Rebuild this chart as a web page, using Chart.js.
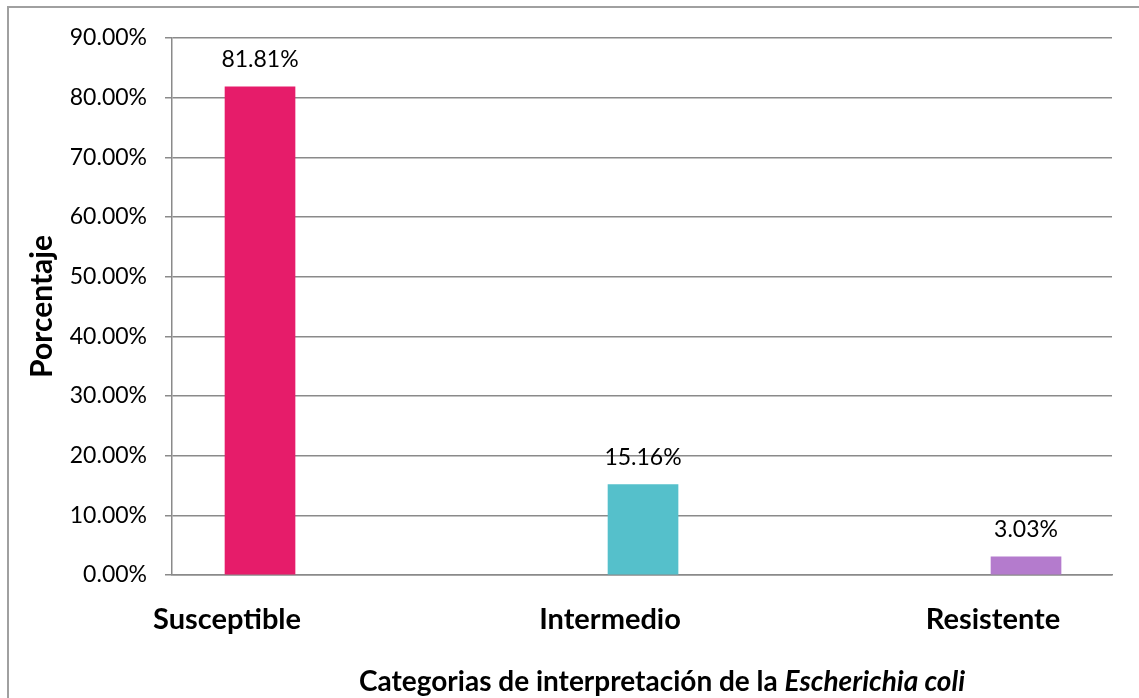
<!DOCTYPE html>
<html>
<head>
<meta charset="utf-8">
<script src="https://cdn.jsdelivr.net/npm/chart.js@4.4.1/dist/chart.umd.min.js"></script>
<style>
html,body{margin:0;padding:0;background:#fff;}
#wrap{position:relative;width:1139px;height:698px;overflow:hidden;}
#frame{position:absolute;left:7px;top:6px;width:1200px;height:720px;border:2px solid #a0a0a0;box-sizing:border-box;}
canvas{position:absolute;left:0;top:0;}
</style>
</head>
<body>
<div id="wrap">
<div id="frame"></div>
<canvas id="c" width="1139" height="698"></canvas>
</div>
<script>
const categories = ["Susceptible", "Intermedio", "Resistente"];
const percentages = [81.81, 15.16, 3.03];
const barColors = ["#e61c6a", "#55c0cb", "#b47bcd"];
const yTicks = [0, 10, 20, 30, 40, 50, 60, 70, 80, 90];
const yTitle = "Porcentaje";
const xTitleParts = [
  {text: "Categorias de interpretación de la ", italic: false},
  {text: "Escherichia coli", italic: true}
];

const FONT = "Lato, 'Liberation Sans', sans-serif";
const GRID = "#8a8a8a";

const dataLabels = {
  id: 'dataLabels',
  afterDatasetsDraw(chart) {
    const ctx = chart.ctx;
    const meta = chart.getDatasetMeta(0);
    ctx.save();
    ctx.font = "23px " + FONT;
    ctx.fillStyle = "#000";
    ctx.textAlign = "center";
    ctx.textBaseline = "middle";
    meta.data.forEach((bar, i) => {
      ctx.fillText(percentages[i].toFixed(2) + "%", bar.x, bar.y - 27);
    });
    ctx.restore();
  }
};

const xTitle = {
  id: 'xTitle',
  afterDraw(chart) {
    const ctx = chart.ctx;
    ctx.save();
    ctx.fillStyle = "#000";
    ctx.textBaseline = "middle";
    ctx.textAlign = "left";
    const fonts = xTitleParts.map(p => (p.italic ? "italic " : "") + "bold 28px " + FONT);
    let total = 0;
    const widths = xTitleParts.map((p, i) => { ctx.font = fonts[i]; const w = ctx.measureText(p.text).width; total += w; return w; });
    const area = chart.chartArea;
    let x = (area.left + area.right) / 2 - total / 2 + 20;
    xTitleParts.forEach((p, i) => {
      ctx.font = fonts[i];
      ctx.fillText(p.text, x, 682);
      x += widths[i];
    });
    ctx.restore();
  }
};

new Chart(document.getElementById('c'), {
  type: 'bar',
  data: {
    datasets: [{
      data: categories.map((c, i) => ({x: i, y: percentages[i]})),
      backgroundColor: barColors,
      barThickness: 70,
      borderWidth: 0
    }]
  },
  options: {
    responsive: false,
    animation: false,
    devicePixelRatio: 1,
    layout: {padding: {left: 8, top: 38, right: 27, bottom: 0}},
    plugins: {legend: {display: false}, tooltip: {enabled: false}},
    scales: {
      x: {
        type: 'linear',
        offset: false,
        min: -0.2298,
        max: 2.2245,
        grid: {display: false, drawTicks: false, offset: false},
        border: {display: true, color: GRID, width: 1.5},
        afterBuildTicks(scale) { scale.ticks = categories.map((c, i) => ({value: i})); },
        ticks: {
          callback: (v) => categories[v],
          font: {family: FONT, size: 29, weight: 'bold'},
          color: '#000',
          padding: 27,
          labelOffset: -33,
          maxRotation: 0,
          autoSkip: false
        },
        afterFit(scale) { scale.height = 698 - 575; }
      },
      y: {
        min: 0,
        max: 90,
        afterBuildTicks(scale) { scale.ticks = yTicks.map(v => ({value: v})); },
        grid: {color: GRID, lineWidth: 1.5, tickLength: 7, drawTicks: true},
        border: {display: true, color: GRID, width: 1.5},
        ticks: {
          callback: (v) => Number(v).toFixed(2) + "%",
          font: {family: FONT, size: 23},
          color: '#000',
          padding: 18
        },
        title: {
          display: true,
          text: yTitle,
          font: {family: FONT, size: 30, weight: 'bold'},
          color: '#000',
          padding: {top: 16, bottom: 0}
        },
        afterFit(scale) { scale.width = 172 - 8; }
      }
    }
  },
  plugins: [dataLabels, xTitle]
});
</script>
</body>
</html>
